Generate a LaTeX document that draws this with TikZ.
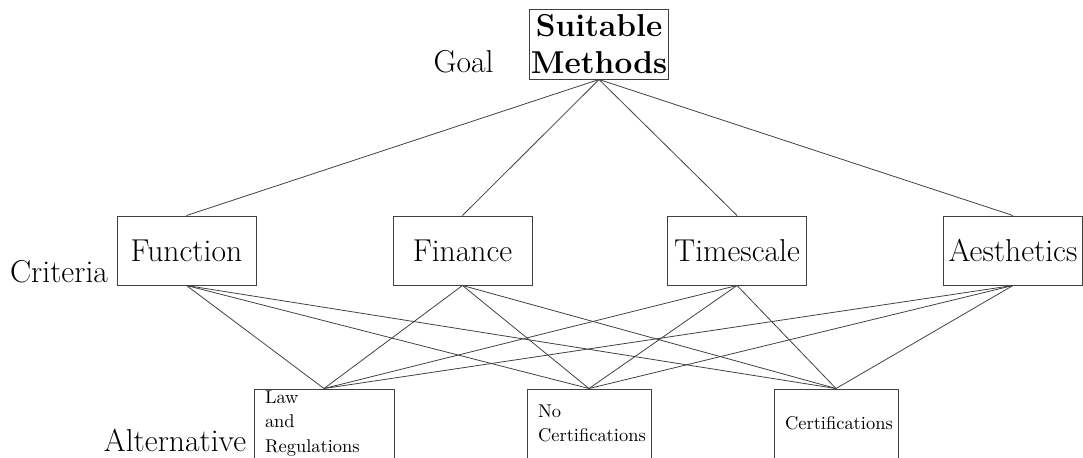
\documentclass[tikz,border=0pt]{standalone}
\usepackage{tikz}

\begin{document}
\begin{tikzpicture}[
    levelbox/.style={draw=black!75, line width=0.55pt, minimum width=2.78cm, minimum height=1.38cm, inner sep=1pt, font=\fontsize{18}{21.5}\selectfont},
    altbox/.style={draw=black!75, line width=0.55pt, minimum height=1.38cm, inner xsep=0.22cm, inner ysep=0pt, text width=2.04cm, align=left, font=\fontsize{10.5}{14}\selectfont},
    levellabel/.style={anchor=base, font=\fontsize{18}{21}\selectfont},
    link/.style={draw=black!75, line width=0.45pt}
]
    \useasboundingbox (0, 0) rectangle (21.66, 9.14);

    % --- Goal on top ---
    \node[levelbox, align=center, font=\fontsize{18}{21.5}\selectfont\bfseries, minimum height=1.4cm] (goal) at (11.98, 8.26) {Suitable\\Methods};
    \node[levellabel] (goallabel) at (9.27, 7.7) {Goal};

    % --- Criteria in the middle ---
    \node[levelbox] (function) at (3.73, 4.13) {Function};
    \node[levelbox] (finance) at (9.25, 4.13) {Finance};
    \node[levelbox] (timescale) at (14.74, 4.13) {Timescale};
    \node[levelbox] (aesthetics) at (20.26, 4.13) {Aesthetics};
    \node[levellabel] (critlabel) at (1.18, 3.5) {Criteria};

    % --- Alternatives at the bottom (cut off by the page edge) ---
    \node[altbox, text width=2.36cm] (law) at (6.48, 0.67) {Law\\and\\Regulations};
    \node[altbox] (nocert) at (11.78, 0.67) {No\\Certifications};
    \node[altbox] (cert) at (16.72, 0.67) {Certifications};
    \node[levellabel] (altlabel) at (3.5, 0.12) {Alternative};

    % Goal to every criterion
    \foreach \c in {function, finance, timescale, aesthetics}
        \draw[link] (goal.south) -- (\c.north);

    % Every criterion to every alternative
    \foreach \c in {function, finance, timescale, aesthetics}
        \foreach \a in {law, nocert, cert}
            \draw[link] (\c.south) -- (\a.north);
\end{tikzpicture}
\end{document}
